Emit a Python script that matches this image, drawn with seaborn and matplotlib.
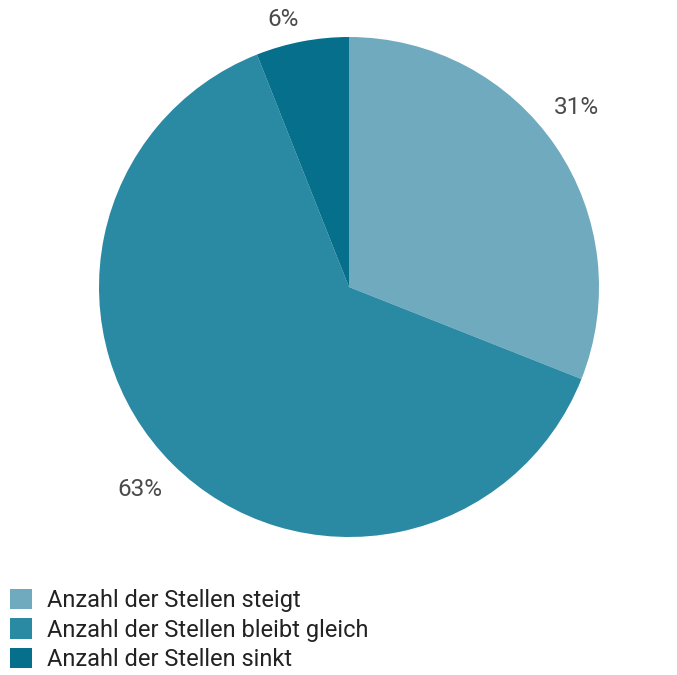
import matplotlib
matplotlib.use("Agg")
import numpy as np
import matplotlib.pyplot as plt
import seaborn as sns

categories = ["Anzahl der Stellen steigt",
              "Anzahl der Stellen bleibt gleich",
              "Anzahl der Stellen sinkt"]
shares = [31, 63, 6]
colors = ["#70AABF", "#2A89A3", "#066F8C"]

# label placement around the pie (distance from centre, angle nudge in degrees)
label_dist = [1.16, 1.165, 1.10]
label_nudge = [4, -1, 3]

sns.set_theme(style="white")
plt.rcParams["font.family"] = ["Roboto", "DejaVu Sans"]
palette = sns.color_palette(colors)

fig = plt.figure(figsize=(6.77, 6.75), dpi=100)
ax = fig.add_axes([99 / 677, 138 / 675, 500 / 677, 500 / 675])

wedges, texts, autotexts = ax.pie(
    shares, colors=palette, startangle=90, counterclock=False,
    autopct="%d%%", pctdistance=1.16, radius=1,
    wedgeprops=dict(linewidth=0),
    textprops=dict(color="#4a4a4a", fontsize=17.5),
)
for w, t, d, n in zip(wedges, autotexts, label_dist, label_nudge):
    ang = np.deg2rad((w.theta1 + w.theta2) / 2 + n)
    t.set_position((d * np.cos(ang), d * np.sin(ang)))
    t.set_clip_on(False)

ax.set_xlim(-1, 1)
ax.set_ylim(-1, 1)
ax.set_aspect("equal")
ax.axis("off")

fig.legend(wedges, categories, loc="upper left",
           bbox_to_anchor=(10 / 677, 0.128), frameon=False,
           fontsize=17, handlelength=0.95, handleheight=0.95,
           handletextpad=0.6, labelspacing=0.27, borderpad=0,
           borderaxespad=0, labelcolor="#222222")

fig.savefig("out.png", dpi=100, facecolor="white")
